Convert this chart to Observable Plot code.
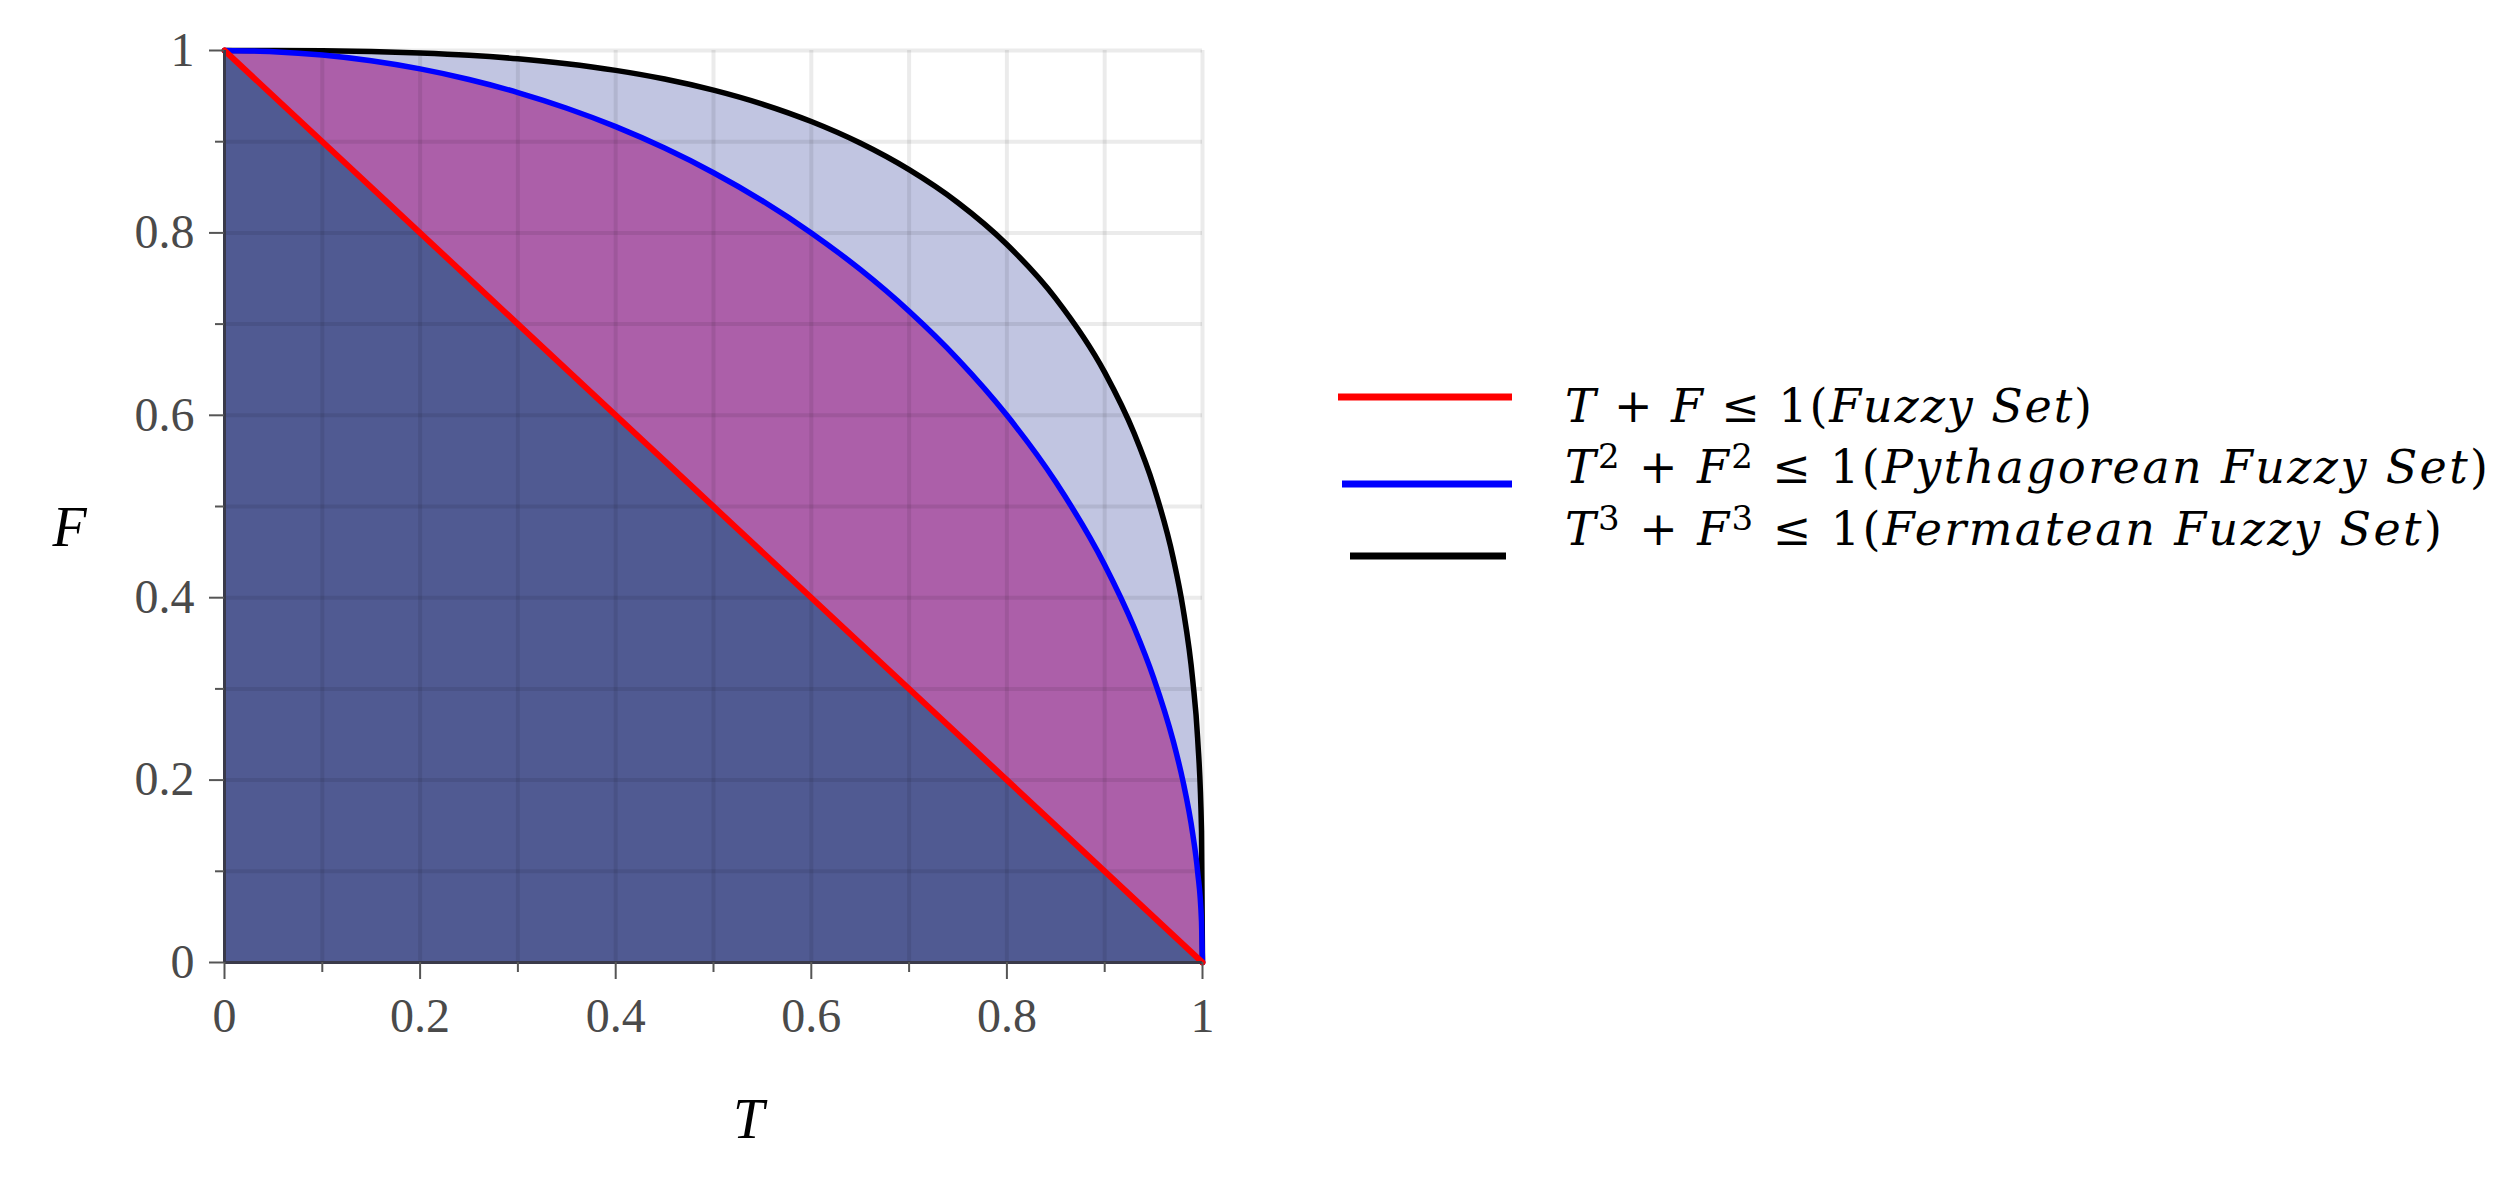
<!DOCTYPE html>
<html>
<head>
<meta charset="utf-8">
<script src="https://cdn.jsdelivr.net/npm/d3@7"></script>
<script src="https://cdn.jsdelivr.net/npm/@observablehq/plot@0.6"></script>
<style>
  html, body { margin: 0; padding: 0; background: #fff; }
  #wrap { position: relative; width: 2506px; height: 1177px; }
  #chart { position: absolute; left: 0; top: 0; }
  #legend { position: absolute; left: 1300px; top: 0; }
</style>
</head>
<body>
<div id="wrap">
  <div id="chart"></div>
  <svg id="legend" width="1206" height="1177"></svg>
</div>
<script>
// ---- data ----
const tSamples = [0, 0.05, 0.1, 0.15, 0.2, 0.25, 0.3, 0.35, 0.4, 0.45, 0.5, 0.55, 0.6, 0.65, 0.7, 0.75, 0.8, 0.85, 0.9, 0.93, 0.95, 0.97, 0.98, 0.99, 0.995, 0.999, 1];
const pythagoreanF = [1, 0.9987, 0.995, 0.9887, 0.9798, 0.9682, 0.9539, 0.9367, 0.9165, 0.893, 0.866, 0.8352, 0.8, 0.7599, 0.7141, 0.6614, 0.6, 0.5268, 0.4359, 0.3676, 0.3122, 0.2431, 0.199, 0.1411, 0.0999, 0.0447, 0];
const fermateanF = [1, 1, 0.9997, 0.9989, 0.9973, 0.9948, 0.9909, 0.9855, 0.9782, 0.9687, 0.9565, 0.9412, 0.9221, 0.8985, 0.8693, 0.8331, 0.7873, 0.728, 0.6471, 0.5805, 0.5225, 0.4437, 0.3889, 0.3097, 0.2462, 0.1442, 0];
const fuzzyT = [0, 1];
const fuzzyF = [1, 0];

const majorTicks = [0, 0.2, 0.4, 0.6, 0.8, 1];
const majorLabels = ["0", "0.2", "0.4", "0.6", "0.8", "1"];
const minorTicks = [0.1, 0.3, 0.5, 0.7, 0.9];
const gridTicks = [0.1, 0.2, 0.3, 0.4, 0.5, 0.6, 0.7, 0.8, 0.9, 1];

const seriesNames = ["Fuzzy Set", "Pythagorean Fuzzy Set", "Fermatean Fuzzy Set"];
const seriesColors = ["#ff0000", "#0000ff", "#000000"];
const xLabel = "T";
const yLabel = "F";

// ---- tables ----
const pyth = tSamples.map((t, i) => ({T: t, F: pythagoreanF[i]}));
const ferm = tSamples.map((t, i) => ({T: t, F: fermateanF[i]}));
const fuzzy = fuzzyT.map((t, i) => ({T: t, F: fuzzyF[i]}));
const fmt = d => majorLabels[majorTicks.indexOf(d)];

const tickFont = {fontFamily: "'Liberation Serif', 'Times New Roman', serif", fontSize: 48};

const plot = Plot.plot({
  width: 1300,
  height: 1177,
  marginLeft: 224,
  marginRight: 98,
  marginTop: 50,
  marginBottom: 215,
  x: {domain: [0, 1]},
  y: {domain: [0, 1]},
  style: {background: "#fff", overflow: "visible"},
  marks: [
    Plot.areaY(ferm, {x: "T", y: "F", fill: "#c1c5e1", curve: "monotone-x"}),
    Plot.areaY(pyth, {x: "T", y: "F", fill: "#ac5fa9", curve: "monotone-x"}),
    Plot.areaY(fuzzy, {x: "T", y: "F", fill: "#505a92"}),
    Plot.gridX(gridTicks, {stroke: "#000", strokeOpacity: 0.08, strokeWidth: 4}),
    Plot.gridY(gridTicks, {stroke: "#000", strokeOpacity: 0.08, strokeWidth: 4}),
    Plot.line(ferm, {x: "T", y: "F", stroke: seriesColors[2], strokeWidth: 5.5, curve: "monotone-x"}),
    Plot.line(pyth, {x: "T", y: "F", stroke: seriesColors[1], strokeWidth: 5.5, curve: "monotone-x"}),
    Plot.line(fuzzy, {x: "T", y: "F", stroke: seriesColors[0], strokeWidth: 6}),
    Plot.ruleY([0], {stroke: "#3a3a4a", strokeWidth: 3}),
    Plot.ruleX([0], {stroke: "#3a3a4a", strokeWidth: 3}),
    Plot.axisX({ticks: majorTicks, tickFormat: fmt, tickSize: 17, tickPadding: 18, stroke: "#555", strokeWidth: 2, fill: "#4a4a4a", label: null, ...tickFont}),
    Plot.axisX({ticks: minorTicks, tickSize: 10, stroke: "#555", strokeWidth: 2, fill: "none", label: null}),
    Plot.axisY({ticks: majorTicks, tickFormat: fmt, tickSize: 15, tickPadding: 15, stroke: "#555", strokeWidth: 2, fill: "#4a4a4a", label: null, ...tickFont}),
    Plot.axisY({ticks: minorTicks, tickSize: 9, stroke: "#555", strokeWidth: 2, fill: "none", label: null}),
    Plot.text([xLabel], {frameAnchor: "bottom", dx: 35, dy: 175, text: d => d, fontFamily: "'Liberation Serif', serif", fontStyle: "italic", fontSize: 56, fill: "#000"}),
    Plot.text([yLabel], {frameAnchor: "left", dx: -172, dy: 22, text: d => d, fontFamily: "'Liberation Serif', serif", fontStyle: "italic", fontSize: 56, fill: "#000"})
  ]
});
document.getElementById("chart").appendChild(plot);

// ---- legend ----
const legend = d3.select("#legend");
const legendLines = [
  {x1: 38, x2: 212, y: 397},
  {x1: 42, x2: 212, y: 484},
  {x1: 50, x2: 206, y: 556}
];
const legendRows = [
  {baseline: 422, width: 527, parts: [["T", "i"], [" + ", "n"], ["F", "i"], [" ≤ 1(", "n"], ["Fuzzy Set", "i"], [")", "n"]]},
  {baseline: 483, width: 923, parts: [["T", "i"], ["2", "s"], [" + ", "n"], ["F", "i"], ["2", "s"], [" ≤ 1(", "n"], ["Pythagorean Fuzzy Set", "i"], [")", "n"]]},
  {baseline: 545, width: 877, parts: [["T", "i"], ["3", "s"], [" + ", "n"], ["F", "i"], ["3", "s"], [" ≤ 1(", "n"], ["Fermatean Fuzzy Set", "i"], [")", "n"]]}
];
legendLines.forEach((l, i) => {
  legend.append("line").attr("x1", l.x1).attr("x2", l.x2).attr("y1", l.y).attr("y2", l.y)
    .attr("stroke", seriesColors[i]).attr("stroke-width", 7);
});
legendRows.forEach(r => {
  const t = legend.append("text")
    .attr("x", 265).attr("y", r.baseline)
    .attr("font-family", "'DejaVu Serif', serif")
    .attr("font-size", 46)
    .attr("fill", "#000")
    .attr("textLength", r.width)
    .attr("lengthAdjust", "spacing")
    .style("white-space", "pre");
  r.parts.forEach(([s, kind]) => {
    const sp = t.append("tspan").text(s);
    if (kind === "i") sp.attr("font-style", "italic");
    if (kind === "s") sp.attr("font-size", 34).attr("baseline-shift", "45%");
  });
});
</script>
</body>
</html>
